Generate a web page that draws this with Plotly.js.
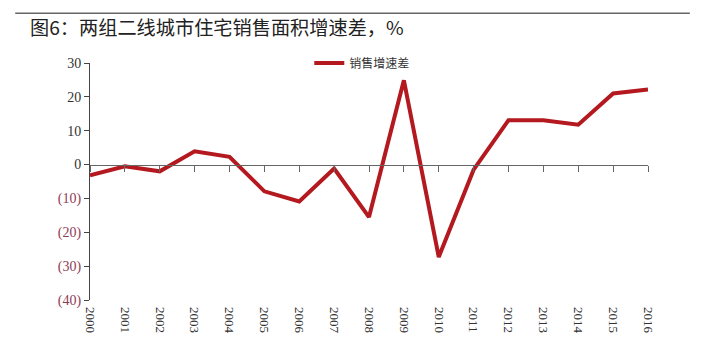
<!DOCTYPE html>
<html>
<head>
<meta charset="utf-8">
<script src="https://cdn.plot.ly/plotly-3.0.1.min.js"></script>
<style>html,body{margin:0;padding:0;background:#fff;}#chart{width:720px;height:359px;}</style>
</head>
<body>
<div id="chart"></div>
<script>
const years = [2000,2001,2002,2003,2004,2005,2006,2007,2008,2009,2010,2011,2012,2013,2014,2015,2016];
const salesGap = [-3.2,-0.5,-2.0,3.9,2.3,-7.9,-10.9,-1.2,-15.5,24.9,-27.3,-1.5,13.1,13.1,11.8,21.0,22.2];
const seriesName = '销售增速差';
const titleText = '图6：两组二线城市住宅销售面积增速差，%';
const yTickVals = [30,20,10,0,-10,-20,-30,-40];
const yTickText = yTickVals.map(v => v < 0
  ? '<span style="color:#8e3b55">(' + Math.abs(v) + ')</span>'
  : String(v));
const xTickText = years.map(String);

const yMin = -40, yMax = 30;

const trace = {
  x: years, y: salesGap, type: 'scatter', mode: 'lines', name: seriesName,
  line: {color: '#B3191F', width: 4}
};
// invisible companion trace so the zero-crossing category axis (x2) is drawn
const axisTrace = {
  x: years, y: salesGap, xaxis: 'x2', type: 'scatter', mode: 'lines', showlegend: false,
  hoverinfo: 'skip', line: {color: 'rgba(0,0,0,0)', width: 0}
};

const layout = {
  width: 720, height: 359,
  margin: {l: 90, r: 72, t: 63, b: 59},
  paper_bgcolor: '#fff', plot_bgcolor: '#fff',
  font: {family: '"Liberation Serif", "Noto Sans CJK SC", serif', color: '#222'},
  showlegend: true,
  legend: {x: 0.393, y: 1.0, xanchor: 'left', yanchor: 'middle', bgcolor: 'rgba(0,0,0,0)',
           font: {family: '"Noto Sans CJK SC", sans-serif', size: 12, color: '#333'}},
  title: {text: titleText, x: 30 / 720, xanchor: 'left', xref: 'container', y: 1 - 28 / 359, yanchor: 'middle', yref: 'container',
          font: {family: '"Noto Sans CJK SC", sans-serif', size: 19.2, color: '#222'}},
  xaxis: {range: [2000, 2016], tickvals: years, ticktext: xTickText, tickangle: 90,
          showline: false, showgrid: false, zeroline: false, ticks: '', ticklabelstandoff: 6,
          tickfont: {family: '"Liberation Serif", serif', size: 13, color: '#333'}},
  xaxis2: {range: [2000, 2016], overlaying: 'x', anchor: 'free', position: (0 - yMin) / (yMax - yMin),
           side: 'bottom', tickvals: years, showticklabels: false, showline: true, linecolor: '#666', linewidth: 1,
           ticks: 'outside', ticklen: 6, tickcolor: '#666', showgrid: false, zeroline: false},
  yaxis: {range: [yMin, yMax], tickvals: yTickVals, ticktext: yTickText, showline: true, linecolor: '#444',
          linewidth: 1, ticks: 'outside', ticklen: 5, tickcolor: '#444', showgrid: false, zeroline: false,
          tickfont: {family: '"Liberation Serif", serif', size: 14, color: '#333'}},
  shapes: [
    {type: 'line', xref: 'paper', yref: 'paper', x0: -0.134, x1: 1.075, y0: 1.21, y1: 1.21,
     line: {color: '#666', width: 1.5}}
  ]
};

Plotly.newPlot('chart', [axisTrace, trace], layout, {displayModeBar: false, staticPlot: true});
</script>
</body>
</html>
